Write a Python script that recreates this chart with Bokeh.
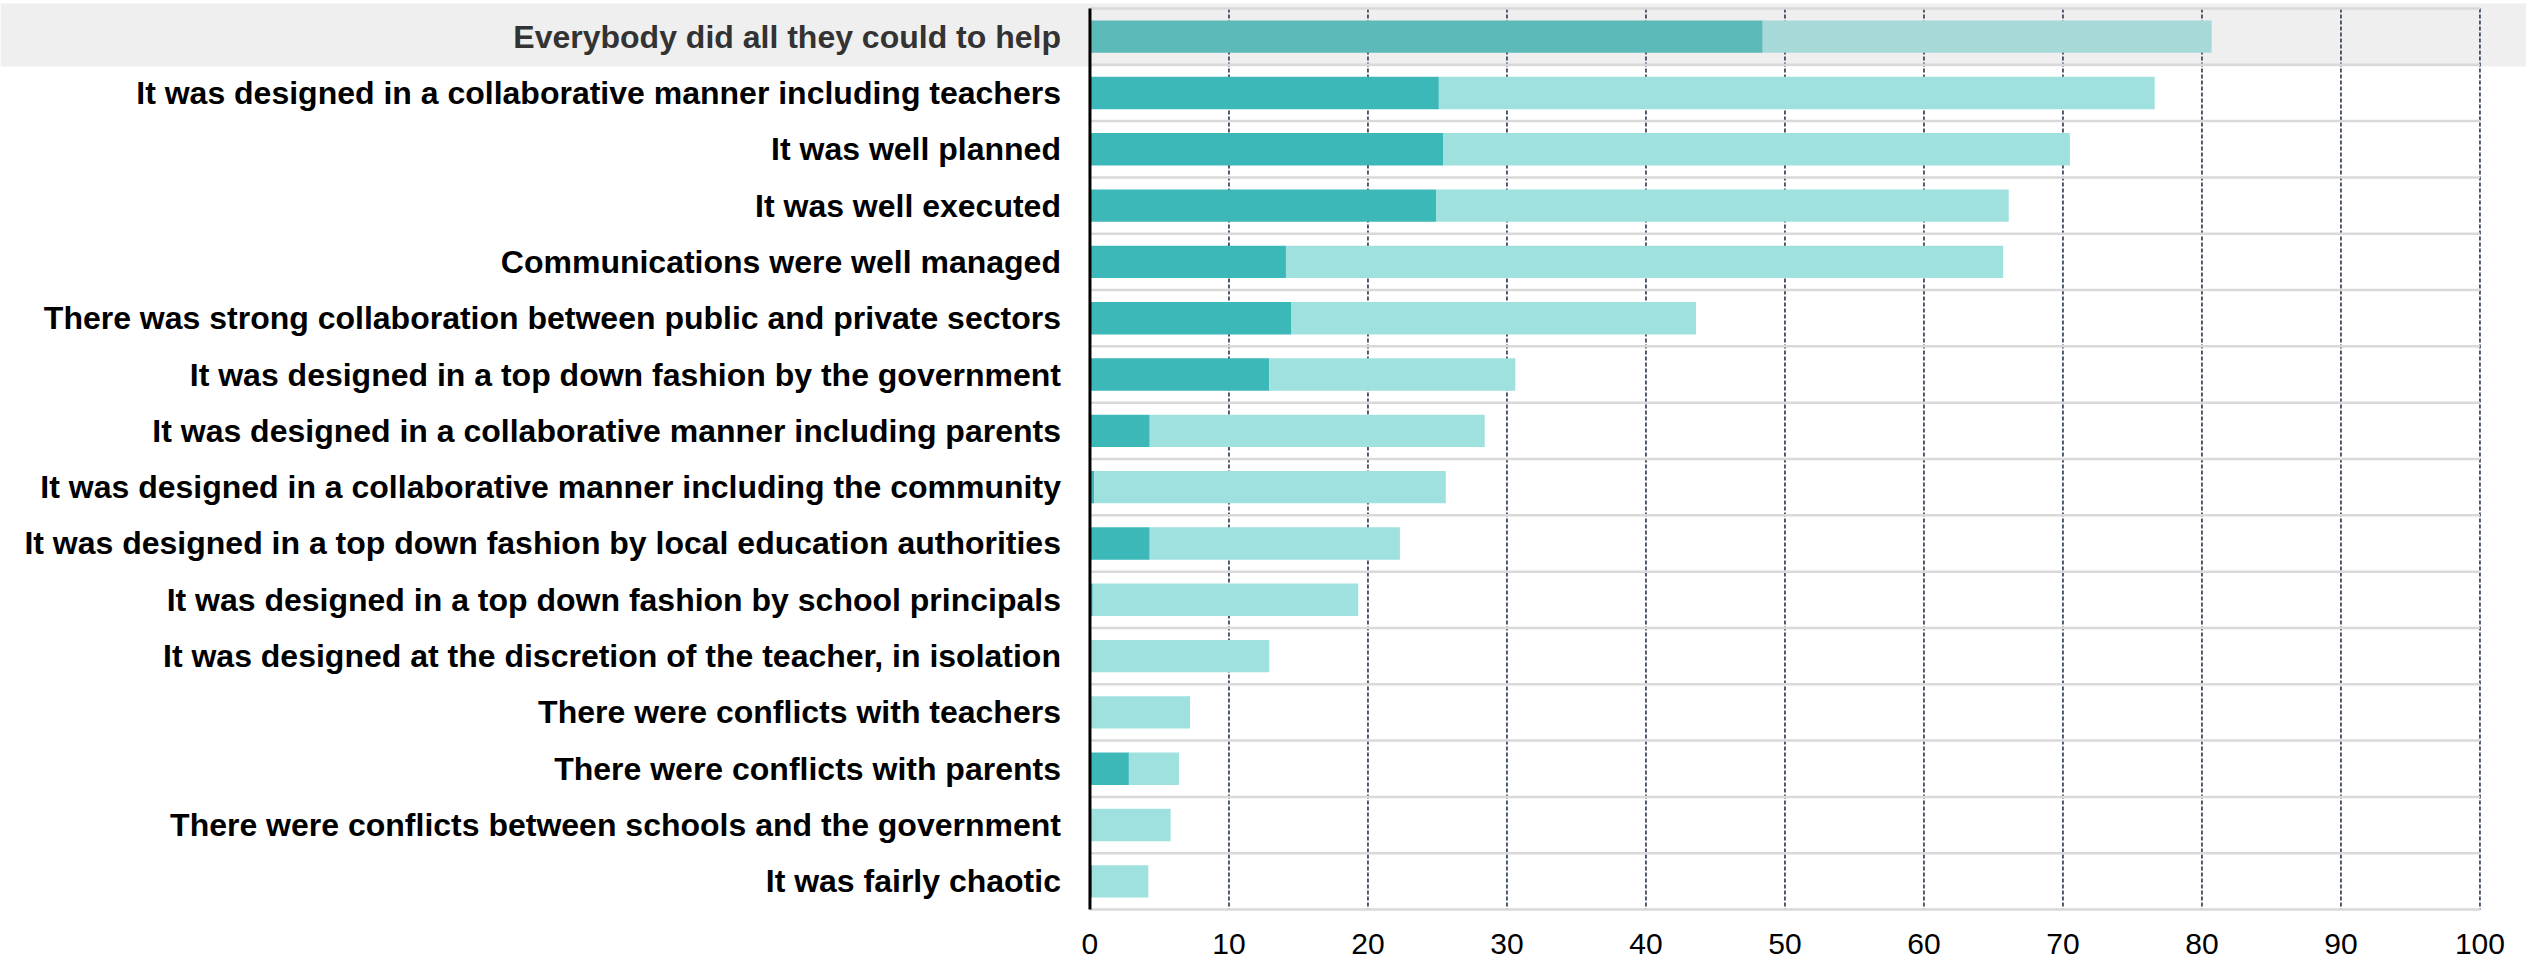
from bokeh.plotting import figure
from bokeh.models import Range1d, FixedTicker, ColumnDataSource
from bokeh.transform import dodge
from bokeh.core.properties import value
from bokeh.embed import file_html
from bokeh.resources import INLINE

# ---------------- data ----------------
categories = [
    "Everybody did all they could to help",
    "It was designed in a collaborative manner including teachers",
    "It was well planned",
    "It was well executed",
    "Communications were well managed",
    "There was strong collaboration between public and private sectors",
    "It was designed in a top down fashion by the government",
    "It was designed in a collaborative manner including parents",
    "It was designed in a collaborative manner including the community",
    "It was designed in a top down fashion by local education authorities",
    "It was designed in a top down fashion by school principals",
    "It was designed at the discretion of the teacher, in isolation",
    "There were conflicts with teachers",
    "There were conflicts with parents",
    "There were conflicts between schools and the government",
    "It was fairly chaotic",
]
strong_share = [48.4, 25.1, 25.4, 24.9, 14.1, 14.5, 12.9, 4.3, 0.3, 4.3, 0.2, 0.0, 0.0, 2.8, 0.0, 0.15]
total_share = [80.7, 76.6, 70.5, 66.1, 65.7, 43.6, 30.6, 28.4, 25.6, 22.3, 19.3, 12.9, 7.2, 6.4, 5.8, 4.2]
x_ticks = [0, 10, 20, 30, 40, 50, 60, 70, 80, 90, 100]
highlight = "Everybody did all they could to help"

# ---------------- styling ----------------
DARK = "#3db8b9"
LIGHT = "#9ee1de"
DARK_HL = "#5cbab9"
LIGHT_HL = "#a7d9d8"
FONT = "Liberation Sans"

dark_colors = [DARK_HL if c == highlight else DARK for c in categories]
light_colors = [LIGHT_HL if c == highlight else LIGHT for c in categories]
label_colors = ["#333333" if c == highlight else "#000000" for c in categories]

src = ColumnDataSource(dict(
    cat=categories, dark=strong_share, total=total_share,
    dcol=dark_colors, lcol=light_colors, tcol=label_colors,
))

p = figure(
    width=2526, height=964,
    y_range=categories[::-1],
    x_range=Range1d(-78.38, 103.35),
    output_backend="svg", toolbar_location=None,
    y_axis_location=None,
    min_border_left=0, min_border_right=0, min_border_top=0, min_border_bottom=47,
    outline_line_color=None,
    background_fill_color="white", border_fill_color="white",
)
p.y_range.range_padding = 0.142
p.y_range.range_padding_units = "absolute"
p.xgrid.visible = False
p.ygrid.visible = False

# highlighted row band
band_src = ColumnDataSource(dict(cat=[highlight]))
p.hbar(y=dodge("cat", 0.03, range=p.y_range), left=-300, right=300, height=1.12,
       fill_color="#efefef", line_color=None, source=band_src)

# vertical dashed gridlines
grid_src = ColumnDataSource(dict(
    x=x_ticks[1:],
    top=[categories[0]] * (len(x_ticks) - 1),
    bot=[categories[-1]] * (len(x_ticks) - 1),
))
p.segment(x0="x", x1="x",
          y0=dodge("top", 0.5, range=p.y_range),
          y1=dodge("bot", -0.5, range=p.y_range),
          line_color="#404c60", line_width=1.8, line_dash="4 2", source=grid_src)

# row separators
p.segment(x0=0, x1=x_ticks[-1],
          y0=dodge("cat", -0.5, range=p.y_range),
          y1=dodge("cat", -0.5, range=p.y_range),
          line_color="#d9d9d9", line_width=2.5, source=src)
top_src = ColumnDataSource(dict(cat=[categories[0]]))
p.segment(x0=0, x1=x_ticks[-1],
          y0=dodge("cat", 0.5, range=p.y_range),
          y1=dodge("cat", 0.5, range=p.y_range),
          line_color="#d9d9d9", line_width=2.5, source=top_src)

# bars
p.hbar(y="cat", left=0, right="dark", height=0.574,
       fill_color="dcol", line_color=None, source=src)
p.hbar(y="cat", left="dark", right="total", height=0.574,
       fill_color="lcol", line_color=None, source=src)

# category labels
p.text(x=0, y="cat", text="cat", x_offset=-29,
       text_align="right", text_baseline="middle",
       text_font=value(FONT), text_font_style="bold",
       text_font_size="32px", text_color="tcol", source=src)

# axis line at zero
axis_src = ColumnDataSource(dict(top=[categories[0]], bot=[categories[-1]]))
p.segment(x0=0, x1=0,
          y0=dodge("top", 0.5, range=p.y_range),
          y1=dodge("bot", -0.5, range=p.y_range),
          line_color="black", line_width=3, source=axis_src)

# x axis
ax = p.xaxis[0]
ax.ticker = FixedTicker(ticks=x_ticks)
ax.major_label_text_font = FONT
ax.major_label_text_font_size = "30px"
ax.major_label_text_color = "black"
ax.major_label_standoff = 10
ax.axis_line_color = None
ax.major_tick_line_color = None
ax.minor_tick_line_color = None

open("out.html", "w").write(file_html(p, INLINE))
